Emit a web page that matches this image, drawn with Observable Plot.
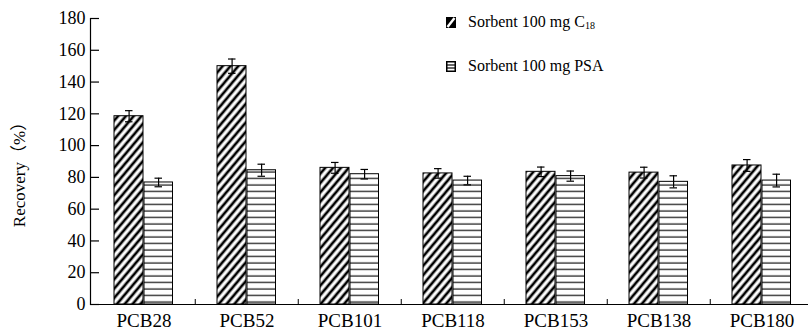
<!DOCTYPE html>
<html><head><meta charset="utf-8">
<script src="https://cdn.jsdelivr.net/npm/d3@7"></script>
<script src="https://cdn.jsdelivr.net/npm/@observablehq/plot@0.6"></script>
<style>
body{margin:0;background:#fff;}
#wrap{position:relative;width:808px;height:331px;font-family:"Liberation Serif","Times New Roman",serif;color:#000;}
.lg{position:absolute;left:446px;display:flex;align-items:center;height:18px;font-size:16px;white-space:nowrap;}
.lg svg{margin-right:12px;}
.lg sub{font-size:10px;vertical-align:-2px;}
</style></head>
<body>
<div id="wrap">
  <div class="lg" style="top:13px">
    <svg width="10" height="11"><rect x="0.75" y="0.75" width="8.5" height="9.5" fill="#000" stroke="#000" stroke-width="1.5"/><line x1="1.5" y1="10" x2="8.5" y2="1" stroke="#fff" stroke-width="2.4"/></svg>
    <span>Sorbent 100 mg C<sub>18</sub></span>
  </div>
  <div class="lg" style="top:57px">
    <svg width="10" height="11"><rect x="0.75" y="0.75" width="8.5" height="9.5" fill="#fff" stroke="#000" stroke-width="1.5"/><line x1="1" y1="4" x2="9" y2="4" stroke="#000" stroke-width="1.2"/><line x1="1" y1="7" x2="9" y2="7" stroke="#000" stroke-width="1.2"/></svg>
    <span>Sorbent 100 mg PSA</span>
  </div>
</div>
<script>
const cats = ["PCB28","PCB52","PCB101","PCB118","PCB153","PCB138","PCB180"];
const c18 = [118.5, 150, 86, 82.5, 83.5, 83, 87.5];
const c18Err = [3.5, 4.5, 3.4, 3, 3, 3.4, 3.7];
const psa = [76.8, 84.5, 82, 78, 80.8, 77.2, 78];
const psaErr = [2.7, 3.8, 3, 2.7, 3.2, 3.8, 4];
const yTicks = [0, 20, 40, 60, 80, 100, 120, 140, 160, 180];
const yLabel = "Recovery（%）";

const dC = cats.map((c, i) => ({cat: c, v: c18[i], e: c18Err[i]}));
const dP = cats.map((c, i) => ({cat: c, v: psa[i], e: psaErr[i]}));

const xRange = [90, 814.5];
const step = (xRange[1] - xRange[0]) / cats.length;

const defs = () => {
  const d = d3.create("svg:defs");
  const p1 = d.append("pattern").attr("id", "hC18").attr("patternUnits", "userSpaceOnUse")
    .attr("width", 6).attr("height", 6).attr("patternTransform", "rotate(40)");
  p1.append("rect").attr("width", 6).attr("height", 6).attr("fill", "#fff");
  p1.append("line").attr("x1", 3).attr("y1", -1).attr("x2", 3).attr("y2", 7).attr("stroke", "#000").attr("stroke-width", 2.7);
  const p2 = d.append("pattern").attr("id", "hPSA").attr("patternUnits", "userSpaceOnUse")
    .attr("width", 10).attr("height", 6.5);
  p2.append("rect").attr("width", 10).attr("height", 6.5).attr("fill", "#fff");
  p2.append("line").attr("x1", 0).attr("y1", 3).attr("x2", 10).attr("y2", 3).attr("stroke", "#222").attr("stroke-width", 1.3);
  return d.node();
};

const serif = '"Liberation Serif","Times New Roman",serif';
const chart = Plot.plot({
  width: 808, height: 331,
  marginTop: 18, marginBottom: 27, marginLeft: 90, marginRight: 0,
  style: {fontFamily: serif, fontSize: "18px", background: "transparent", color: "#000"},
  x: {domain: cats, range: xRange, padding: 0, axis: null},
  y: {domain: [0, 180], axis: null},
  marks: [
    defs,
    Plot.barY(dC, {x: "cat", y: "v", fill: "url(#hC18)", stroke: "#000", strokeWidth: 1, insetLeft: 22, insetRight: 52}),
    Plot.barY(dP, {x: "cat", y: "v", fill: "url(#hPSA)", stroke: "#000", strokeWidth: 1, insetLeft: 52, insetRight: 22.5}),
    Plot.ruleX(dC, {x: "cat", y1: d => d.v - d.e, y2: d => d.v + d.e, dx: -14.9, strokeWidth: 1.2}),
    Plot.tickY(dC, {x: "cat", y: d => d.v + d.e, insetLeft: 33, insetRight: 62.5, strokeWidth: 1.2}),
    Plot.tickY(dC, {x: "cat", y: d => d.v - d.e, insetLeft: 33, insetRight: 62.5, strokeWidth: 1.2}),
    Plot.ruleX(dP, {x: "cat", y1: d => d.v - d.e, y2: d => d.v + d.e, dx: 14.6, strokeWidth: 1.2}),
    Plot.tickY(dP, {x: "cat", y: d => d.v + d.e, insetLeft: 62.5, insetRight: 33, strokeWidth: 1.2}),
    Plot.tickY(dP, {x: "cat", y: d => d.v - d.e, insetLeft: 62.5, insetRight: 33, strokeWidth: 1.2}),
    Plot.ruleY([0], {strokeWidth: 1.2}),
    Plot.frame({anchor: "left", strokeWidth: 1.2}),
    Plot.axisY({ticks: yTicks, tickSize: -9, tickFormat: () => "", label: null, strokeWidth: 1.2}),
    Plot.axisY({ticks: yTicks, tickSize: 0, tickPadding: 5, fontSize: 18, fontFamily: serif, label: null}),
    Plot.axisX({tickSize: 0, tickPadding: 9, fontSize: 19, fontFamily: serif, label: null}),
    Plot.ruleX(cats.slice(1), {x: d => d, dx: -step / 2, insetTop: 281}),
    Plot.text([yLabel], {frameAnchor: "left", textAnchor: "middle", rotate: -90, dx: -71, dy: 9, fontSize: 17,
      fontFamily: '"Liberation Serif","Noto Sans CJK SC",serif'})
  ]
});
document.getElementById("wrap").prepend(chart);
</script>
</body></html>
